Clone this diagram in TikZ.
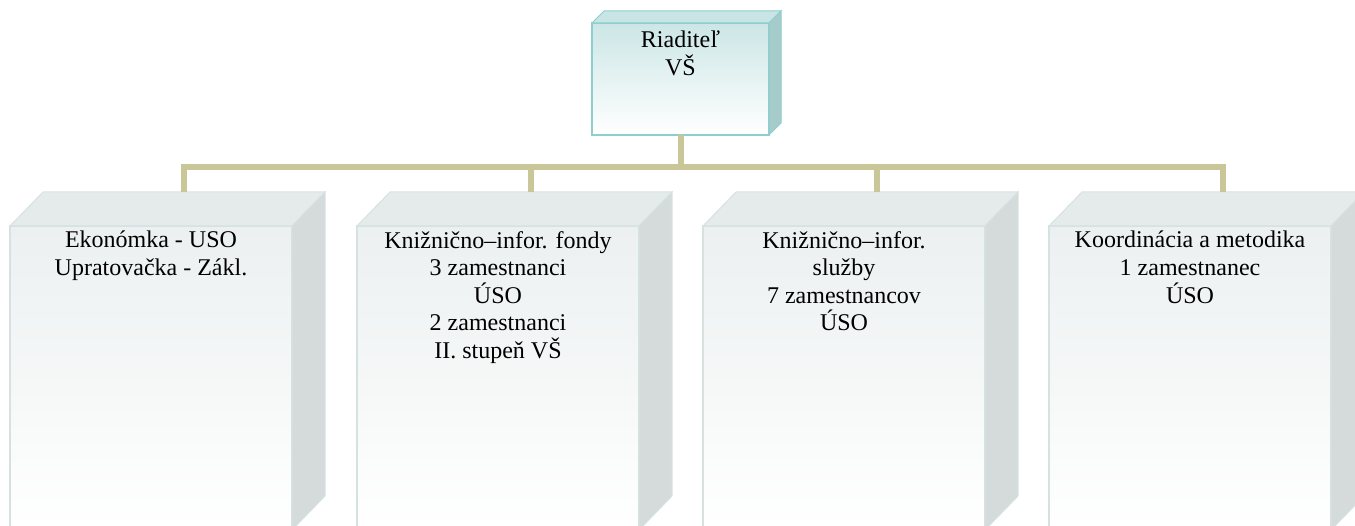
\documentclass[tikz,border=0pt]{standalone}
\usepackage{fontspec}
\setmainfont{Liberation Serif}
\newfontfamily\orgfont{Liberation Serif}
\usetikzlibrary{calc,positioning}

\definecolor{linkkhaki}{RGB}{201,198,152}
\definecolor{headedge}{RGB}{142,206,206}
\definecolor{headtop}{RGB}{204,230,230}
\definecolor{headlid}{RGB}{200,228,228}
\definecolor{headside}{RGB}{166,203,203}
\definecolor{unitedge}{RGB}{214,226,226}
\definecolor{unittop}{RGB}{236,240,240}
\definecolor{unitlid}{RGB}{229,234,234}
\definecolor{unitside}{RGB}{213,219,219}

\tikzset{
  headfront/.style={draw=headedge, line width=2pt, top color=headtop, bottom color=white,
    minimum width=177pt, minimum height=112pt, inner sep=0pt, outer sep=0pt, anchor=north west},
  unitfront/.style={draw=unitedge, line width=1.5pt, top color=unittop, bottom color=white,
    minimum width=282pt, minimum height=304pt, inner sep=0pt, outer sep=0pt, anchor=north west},
  lbl/.style={align=center, inner sep=0pt, font=\orgfont\fontsize{24}{27.6}\selectfont},
  link/.style={draw=linkkhaki, line width=6pt},
}

\begin{document}
\begin{tikzpicture}[x=1pt,y=-1pt]
    \useasboundingbox (0,0) rectangle (1355,526);
    % Director box
    \node[headfront] (boss) at (592,23) {};
    \draw[headedge, line width=1pt, fill=headlid] (boss.north west) -- ([shift={(12,-12)}]boss.north west)
        -- ([shift={(12,-12)}]boss.north east) -- (boss.north east) -- cycle;
    \draw[headedge, line width=1pt, fill=headside] (boss.north east) -- ([shift={(12,-12)}]boss.north east)
        -- ([shift={(12,-12)}]boss.south east) -- (boss.south east) -- cycle;
    \node[lbl, below=8pt of boss.north] (bosstext) {Riaditeľ\\VŠ};
    % Unit boxes
    \node[unitfront] (u1) at (10,226) {};
    \node[unitfront] (u2) at (357,226) {};
    \node[unitfront] (u3) at (703,226) {};
    \node[unitfront] (u4) at (1049,226) {};
    \foreach \u in {u1,u2,u3,u4}{
        \draw[unitedge, line width=1pt, fill=unitlid] (\u.north west) -- ([shift={(33,-34)}]\u.north west)
            -- ([shift={(33,-34)}]\u.north east) -- (\u.north east) -- cycle;
        \draw[unitedge, line width=1pt, fill=unitside] (\u.north east) -- ([shift={(33,-34)}]\u.north east)
            -- ([shift={(33,-34)}]\u.south east) -- (\u.south east) -- cycle;
        \coordinate (\u-lid) at ([shift={(33,-34)}]\u.north);
    }
    \node[lbl, below=5pt of u1.north] (u1text) {Ekonómka - USO\\Upratovačka - Zákl.};
    \node[lbl, below=5pt of u2.north] (u2text) {Knižnično–infor. fondy\\3 zamestnanci\\ÚSO\\2 zamestnanci\\II. stupeň VŠ};
    \node[lbl, below=5pt of u3.north] (u3text) {Knižnično–infor.\\služby\\7 zamestnancov\\ÚSO};
    \node[lbl, below=5pt of u4.north] (u4text) {Koordinácia a metodika\\1 zamestnanec\\ÚSO};
    % Connectors
    \coordinate (bus) at ($(boss.south)+(0,32)$);
    \draw[link] (boss.south) -- (bus);
    \draw[link] (u1-lid) |- (bus) -| (u4-lid);
    \draw[link] (u2-lid) -- (u2-lid |- bus);
    \draw[link] (u3-lid) -- (u3-lid |- bus);
\end{tikzpicture}
\end{document}
